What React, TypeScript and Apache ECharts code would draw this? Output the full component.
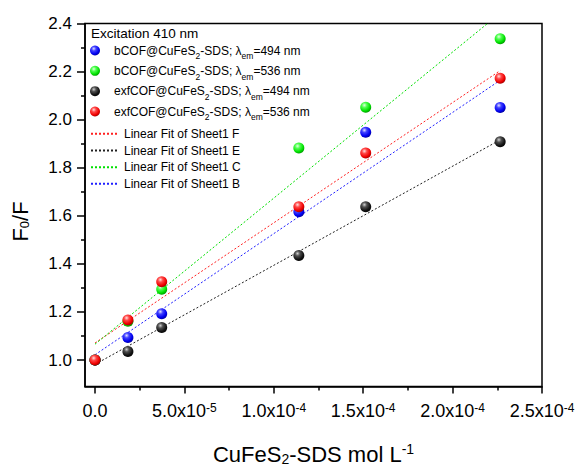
import React, { useEffect, useRef } from 'react';
import * as echarts from 'echarts';

// ---- data ----
const xConc = [0, 1.84e-5, 3.73e-5, 1.14e-4, 1.514e-4, 2.266e-4];
const bCOF494 = [1.0, 1.094, 1.193, 1.617, 1.948, 2.051];
const bCOF536 = [1.0, 1.161, 1.295, 1.882, 2.052, 2.337];
const exf494 = [1.0, 1.036, 1.135, 1.435, 1.638, 1.908];
const exf536 = [1.0, 1.167, 1.326, 1.638, 1.861, 2.172];

const fitX = [0, 2.266e-4];
const fitF = [1.071, 2.204];
const fitE = [0.982, 1.916];
const fitC = [1.066, 2.443];
const fitB = [1.022, 2.164];

const xMajorTicks = [0, 5e-5, 1e-4, 1.5e-4, 2e-4, 2.5e-4];
const xTickMantissa = ['0.0', '5.0x10', '1.0x10', '1.5x10', '2.0x10', '2.5x10'];
const xTickExponent = ['', '-5', '-4', '-4', '-4', '-4'];
const xMinorTicks = [2.5e-5, 7.5e-5, 1.25e-4, 1.75e-4, 2.25e-4];
const yMajorTicks = [1.0, 1.2, 1.4, 1.6, 1.8, 2.0, 2.2, 2.4];
const yTickLabels = ['1.0', '1.2', '1.4', '1.6', '1.8', '2.0', '2.2', '2.4'];
const yMinorTicks = [1.1, 1.3, 1.5, 1.7, 1.9, 2.1, 2.3];

const scatterNames = [
  'bCOF@CuFeS2-SDS; λem=494 nm',
  'bCOF@CuFeS2-SDS; λem=536 nm',
  'exfCOF@CuFeS2-SDS; λem=494 nm',
  'exfCOF@CuFeS2-SDS; λem=536 nm',
];
const scatterRich = [
  '{m|bCOF@CuFeS}{s|2}{m|-SDS; λ}{s|em}{m|=494 nm}',
  '{m|bCOF@CuFeS}{s|2}{m|-SDS; λ}{s|em}{m|=536 nm}',
  '{m|exfCOF@CuFeS}{s|2}{m|-SDS; λ}{s|em}{m|=494 nm}',
  '{m|exfCOF@CuFeS}{s|2}{m|-SDS; λ}{s|em}{m|=536 nm}',
];
const fitNames = ['Linear Fit of Sheet1 F', 'Linear Fit of Sheet1 E', 'Linear Fit of Sheet1 C', 'Linear Fit of Sheet1 B'];

const FONT = '"Liberation Sans", Arial, sans-serif';
const X_MIN = -5.6e-6;
const X_MAX = 2.5e-4;
const Y_MIN = 0.89;
const Y_MAX = 2.4;

function ball(light: string, mid: string, base: string, dark: string) {
  return new echarts.graphic.RadialGradient(0.38, 0.32, 0.75, [
    { offset: 0, color: light },
    { offset: 0.3, color: mid },
    { offset: 0.7, color: base },
    { offset: 1, color: dark },
  ]);
}

function nearestIndex(arr: number[], v: number) {
  let best = 0;
  for (let i = 1; i < arr.length; i++) {
    if (Math.abs(arr[i] - v) < Math.abs(arr[best] - v)) best = i;
  }
  return best;
}

export default function App() {
  const ref = useRef<HTMLDivElement>(null);
  useEffect(() => {
    if (!ref.current) return;
    const chart = echarts.init(ref.current, null, { renderer: 'svg' });
    const pts = (ys: number[]) => xConc.map((x, i) => [x, ys[i]]);
    const fit = (ys: number[]) => fitX.map((x, i) => [x, ys[i]]);
    const ballStyles = [
      ball('#e0e0ff', '#4040ff', '#0000f0', '#000090'),
      ball('#e0ffe0', '#50ff50', '#00e000', '#008a00'),
      ball('#d0d0d0', '#505050', '#141414', '#000000'),
      ball('#ffe0e0', '#ff4848', '#f00000', '#900000'),
    ];
    const scatterData = [bCOF494, bCOF536, exf494, exf536];
    const fitData = [fitF, fitE, fitC, fitB];
    const fitColors = ['#ff2020', '#202020', '#00e000', '#2020ff'];

    const axisLineStyle = { color: '#000', width: 1.5 };

    const option: any = {
      animation: false,
      backgroundColor: '#fff',
      textStyle: { fontFamily: FONT, color: '#000' },
      grid: {
        left: 85,
        right: 40,
        top: 23.5,
        bottom: 83,
        show: true,
        borderColor: '#000',
        borderWidth: 1.5,
        backgroundColor: 'transparent',
      },
      graphic: [
        {
          type: 'text',
          left: 91,
          top: 26.5,
          style: { text: 'Excitation 410 nm', font: `13.5px ${FONT}`, fill: '#000' },
        },
      ],
      legend: [
        {
          data: scatterNames,
          orient: 'vertical',
          left: 90,
          top: 44.5,
          padding: 0,
          itemGap: 4,
          itemWidth: 28,
          itemHeight: 10,
          selectedMode: false,
          formatter: (name: string) => scatterRich[scatterNames.indexOf(name)],
          textStyle: {
            fontFamily: FONT,
            fontSize: 12,
            color: '#000',
            rich: {
              m: { fontFamily: FONT, fontSize: 12, lineHeight: 20.67, color: '#000' },
              s: { fontFamily: FONT, fontSize: 8.5, lineHeight: 6.7, verticalAlign: 'bottom', color: '#000' },
            },
          },
        },
        {
          data: fitNames,
          orient: 'vertical',
          left: 90,
          top: 125.5,
          padding: 0,
          itemGap: 0,
          itemWidth: 28,
          itemHeight: 10,
          selectedMode: false,
          itemStyle: { opacity: 0 },
          textStyle: { fontFamily: FONT, fontSize: 12, lineHeight: 16.67, color: '#000' },
        },
      ],
      xAxis: [
        {
          type: 'value',
          position: 'bottom',
          min: X_MIN,
          max: X_MAX,
          name: '{m|CuFeS}{s|2}{m|-SDS mol L}{p|-1}',
          nameLocation: 'middle',
          nameGap: 55.5,
          nameTextStyle: {
            rich: {
              m: { fontFamily: FONT, fontSize: 22, lineHeight: 24, color: '#000' },
              s: { fontFamily: FONT, fontSize: 14, lineHeight: 5, verticalAlign: 'bottom', color: '#000' },
              p: { fontFamily: FONT, fontSize: 14, lineHeight: 12, verticalAlign: 'top', color: '#000' },
            },
          },
          axisLine: { show: true, onZero: false, lineStyle: axisLineStyle },
          axisTick: { show: true, inside: false, length: 7, customValues: xMajorTicks, lineStyle: axisLineStyle },
          axisLabel: {
            customValues: xMajorTicks,
            margin: 15,
            showMinLabel: true,
            showMaxLabel: true,
            formatter: (v: number) => {
              const i = nearestIndex(xMajorTicks, v);
              return xTickExponent[i]
                ? `{m|${xTickMantissa[i]}}{p|${xTickExponent[i]}}`
                : `{m|${xTickMantissa[i]}}`;
            },
            rich: {
              m: { fontFamily: FONT, fontSize: 18, lineHeight: 18, color: '#000' },
              p: { fontFamily: FONT, fontSize: 12, lineHeight: 9, verticalAlign: 'top', color: '#000' },
            },
          },
          splitLine: { show: false },
        },
        {
          type: 'value',
          position: 'bottom',
          min: X_MIN,
          max: X_MAX,
          axisLine: { show: false, onZero: false },
          axisTick: { show: true, inside: false, length: 4, customValues: xMinorTicks, lineStyle: axisLineStyle },
          axisLabel: { show: false },
          splitLine: { show: false },
        },
      ],
      yAxis: [
        {
          type: 'value',
          position: 'left',
          min: Y_MIN,
          max: Y_MAX,
          name: '{m|F}{s|0}{m|/F}',
          nameLocation: 'middle',
          nameGap: 54,
          nameTextStyle: {
            padding: [0, 33, 0, 0],
            rich: {
              m: { fontFamily: FONT, fontSize: 22, lineHeight: 22, color: '#000' },
              s: { fontFamily: FONT, fontSize: 13, lineHeight: 8, verticalAlign: 'bottom', color: '#000' },
            },
          },
          axisLine: { show: true, onZero: false, lineStyle: axisLineStyle },
          axisTick: { show: true, inside: false, length: 8, customValues: yMajorTicks, lineStyle: axisLineStyle },
          axisLabel: {
            customValues: yMajorTicks,
            margin: 13,
            showMinLabel: true,
            showMaxLabel: true,
            fontFamily: FONT,
            fontSize: 17,
            color: '#000',
            formatter: (v: number) => yTickLabels[nearestIndex(yMajorTicks, v)],
          },
          splitLine: { show: false },
        },
        {
          type: 'value',
          position: 'left',
          min: Y_MIN,
          max: Y_MAX,
          axisLine: { show: false, onZero: false },
          axisTick: { show: true, inside: false, length: 4, customValues: yMinorTicks, lineStyle: axisLineStyle },
          axisLabel: { show: false },
          splitLine: { show: false },
        },
      ],
      series: [
        ...fitNames.map((name, k) => ({
          name,
          type: 'line',
          xAxisIndex: 0,
          yAxisIndex: 0,
          data: fit(fitData[k]),
          symbol: 'none',
          showSymbol: false,
          clip: true,
          lineStyle: { color: fitColors[k], width: 1, type: [2, 2] },
          itemStyle: { color: fitColors[k] },
          z: 2,
        })),
        ...scatterNames.map((name, k) => ({
          name,
          type: 'scatter',
          xAxisIndex: 0,
          yAxisIndex: 0,
          data: pts(scatterData[k]),
          symbol: 'circle',
          symbolSize: 11,
          itemStyle: { color: ballStyles[k], opacity: 1 },
          z: 3,
        })),
      ],
    };
    chart.setOption(option);
    return () => chart.dispose();
  }, []);
  return <div ref={ref} style={{ position: 'absolute', left: 0, top: 0, width: 582, height: 471 }} />;
}
